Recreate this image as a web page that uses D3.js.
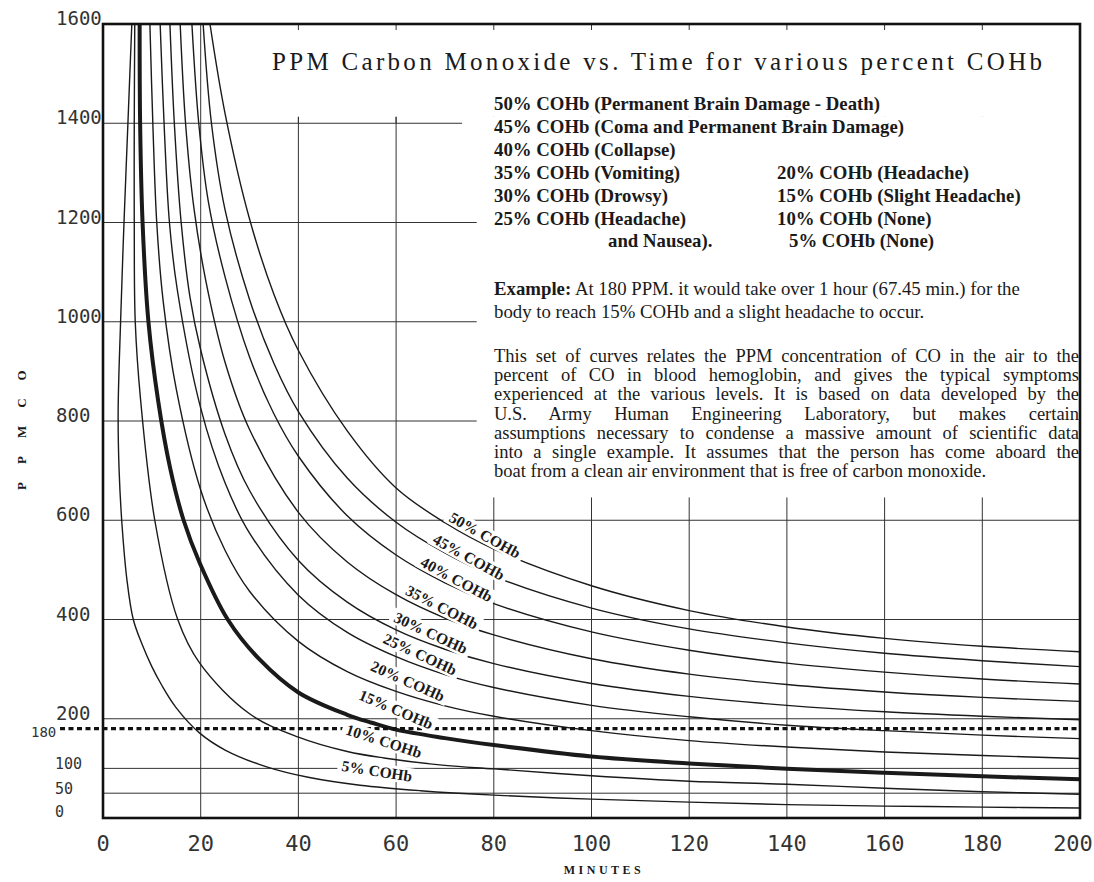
<!DOCTYPE html>
<html>
<head>
<meta charset="utf-8">
<script src="https://cdn.jsdelivr.net/npm/d3@7"></script>
<style>
  body { margin: 0; background: #fff; }
  svg { display: block; }
</style>
</head>
<body>
<div id="chart"></div>
<script>
// curves: [minutes, ppm]
const coh5 = [[5.9,1600],[5.1,1400],[4.3,1200],[3.6,1000],[3.1,820],[3.3,700],[3.9,590],[4.9,480],[6.2,400],[8,350],[10,305],[12,268],[15,222],[19.8,171],[25,137],[33.5,103],[42,82],[52.6,66],[65,55],[80,46],[100,38],[120,32],[140,27],[160,24],[180,22],[200,20]]
const coh10 = [[6.5,1600],[6.4,1400],[6.4,1200],[6.6,1000],[7.7,842],[10.6,600],[15.3,400],[19.8,312],[30,210],[40,163],[50,134],[57.5,121],[70,106],[80,99],[100,85],[120,74],[140,68],[160,60],[180,53],[200,48]]
const coh15 = [[7.5,1600],[7.6,1400],[8.1,1200],[9.3,1000],[11.3,840],[13.7,707],[16.5,600],[19.8,514],[25.6,399],[32,320],[40,253],[50,208],[55,192],[60,178],[70,161],[80,147],[100,124],[120,110],[140,99],[160,91],[180,84],[200,78]]
const coh20 = [[9.6,1600],[10.2,1400],[11,1200],[12.3,1043],[15,864],[20,661],[25,539],[30,457],[40,356],[50,295],[60,255],[70,226],[80,205],[100,176],[120,156],[140,143],[160,133],[180,126],[200,120]]
const coh25 = [[11.7,1600],[12.5,1400],[13.6,1200],[15.2,1065],[20,826],[25,675],[30,574],[40,449],[50,374],[60,325],[70,289],[80,263],[100,227],[120,204],[140,187],[160,176],[180,167],[200,160]]
const coh30 = [[13.7,1600],[14.6,1400],[16,1200],[17.8,1050],[20,943],[25,773],[30,660],[40,519],[50,435],[60,379],[70,340],[80,311],[100,271],[120,245],[140,227],[160,214],[180,205],[200,198]]
const coh35 = [[15.8,1600],[16.9,1400],[18.6,1230],[21,1085],[25,918],[30,783],[40,616],[50,516],[60,450],[70,403],[80,369],[100,321],[120,290],[140,269],[160,254],[180,243],[200,235]]
const coh40 = [[18.2,1600],[19.6,1400],[21.6,1240],[25,1090],[30,929],[35,814],[40,729],[50,609],[60,530],[70,474],[80,432],[100,375],[120,338],[140,312],[160,294],[180,280],[200,270]]
const coh45 = [[20.5,1600],[22.2,1400],[25,1225],[30,1045],[35,916],[40,819],[50,685],[60,596],[70,534],[80,487],[100,423],[120,381],[140,353],[160,332],[180,317],[200,305]]
const coh50 = [[21.9,1600],[25,1419],[30,1207],[35,1055],[40,942],[50,780],[60,665],[70,595],[80,542],[100,468],[120,418],[140,385],[160,362],[180,346],[200,335]]

const levels = ['5%', '10%', '15%', '20%', '25%', '30%', '35%', '40%', '45%', '50%']
const curves = [coh5, coh10, coh15, coh20, coh25, coh30, coh35, coh40, coh45, coh50]
// label anchor [minutes, ppm] and tilt for each level
const labelAt = [[56.1,95],[57.5,155],[60,219],[62.4,276],[64.9,330],[67.1,373],[69.4,425],[72.4,481],[74.9,526],[78.2,570]]
const labelTilt = [9, 18, 23, 24, 25, 25, 27, 28, 29, 29]

const xTicks = [0, 20, 40, 60, 80, 100, 120, 140, 160, 180, 200]
const yTicksBig = [200, 400, 600, 800, 1000, 1200, 1400, 1600]
const yTicksSmall = [0, 50, 100]
const hGrid = [50, 100, 200, 400, 600, 800, 1000, 1200, 1400]
const vGrid = [20, 40, 60, 80, 100, 120, 140, 160, 180]
const examplePPM = 180

const title = 'PPM Carbon Monoxide vs. Time for various percent COHb'
const legendLeft = [
  '50% COHb (Permanent Brain Damage - Death)',
  '45% COHb (Coma and Permanent Brain Damage)',
  '40% COHb (Collapse)',
  '35% COHb (Vomiting)',
  '30% COHb (Drowsy)',
  '25% COHb (Headache)'
]
const legendRight = ['20% COHb (Headache)', '15% COHb (Slight Headache)', '10% COHb (None)', '5% COHb (None)']
const exampleLines = [
  ' At 180 PPM. it would take over 1 hour (67.45 min.) for the',
  'body to reach 15% COHb and a slight headache to occur.'
]
const noteLines = [
  'This set of curves relates the PPM concentration of CO in the air to the',
  'percent of CO in blood hemoglobin, and gives the typical symptoms',
  'experienced at the various levels. It is based on data developed by the',
  'U.S. Army Human Engineering Laboratory, but makes certain',
  'assumptions necessary to condense a massive amount of scientific data',
  'into a single example. It assumes that the person has come aboard the',
  'boat from a clean air environment that is free of carbon monoxide.'
]

const width = 1094, height = 882
const plot = {left: 103, right: 1080, top: 24, bottom: 818}
const ink = '#1a1a1a'
const serif = '"Liberation Serif", "Times New Roman", serif'
const mono = '"DejaVu Sans Mono", monospace'

const x = d3.scaleLinear().domain([0, 200]).range([plot.left, plot.right])
const y = d3.scaleLinear().domain([0, 1600]).range([plot.bottom, plot.top])

const svg = d3.select('#chart').append('svg')
  .attr('width', width)
  .attr('height', height)

svg.append('defs').append('clipPath').attr('id', 'plot-clip')
  .append('rect')
  .attr('x', plot.left).attr('y', plot.top)
  .attr('width', plot.right - plot.left).attr('height', plot.bottom - plot.top)

// grid
const grid = svg.append('g').attr('stroke', '#333').attr('stroke-width', 1)
grid.selectAll('.hg').data(hGrid).enter().append('line')
  .attr('x1', plot.left).attr('x2', plot.right)
  .attr('y1', d => y(d)).attr('y2', d => y(d))
grid.selectAll('.vg').data(vGrid).enter().append('line')
  .attr('x1', d => x(d)).attr('x2', d => x(d))
  .attr('y1', plot.top).attr('y2', plot.bottom)

// blank areas behind the title and the notes
svg.append('rect')
  .attr('x', x(20) + 2).attr('y', plot.top)
  .attr('width', plot.right - x(20) - 2).attr('height', y(1413) - plot.top)
  .attr('fill', '#fff')
svg.append('rect')
  .attr('x', x(73.5)).attr('y', y(1413))
  .attr('width', plot.right - x(73.5)).attr('height', y(1385) - y(1413))
  .attr('fill', '#fff')
svg.append('rect')
  .attr('x', x(76.5)).attr('y', y(1413))
  .attr('width', plot.right - x(76.5)).attr('height', y(646) - y(1413))
  .attr('fill', '#fff')
svg.append('g').attr('stroke', '#333')
  .selectAll('line').data(vGrid.filter(d => d >= 40)).enter().append('line')
  .attr('x1', d => x(d)).attr('x2', d => x(d))
  .attr('y1', plot.top).attr('y2', plot.top + 6)
svg.append('g').attr('stroke', '#333')
  .selectAll('line').data([40, 60]).enter().append('line')
  .attr('x1', d => x(d)).attr('x2', d => x(d))
  .attr('y1', y(1413)).attr('y2', y(1400))

// curves
const line = d3.line()
  .x(d => x(d[0]))
  .y(d => y(d[1]))
  .curve(d3.curveCatmullRom.alpha(0.5))
svg.append('g').attr('clip-path', 'url(#plot-clip)')
  .selectAll('path').data(curves).enter().append('path')
  .attr('d', line)
  .attr('fill', 'none')
  .attr('stroke', ink)
  .attr('stroke-width', (d, i) => levels[i] === '15%' ? 4 : 1.4)
  .attr('stroke-linejoin', 'round')

// 180 ppm example line
svg.append('line')
  .attr('x1', 60).attr('x2', plot.right)
  .attr('y1', y(examplePPM)).attr('y2', y(examplePPM))
  .attr('stroke', '#111')
  .attr('stroke-width', 3.2)
  .attr('stroke-dasharray', '5,3.5')

// curve labels, each on a white patch
const lab = svg.append('g').selectAll('g').data(levels).enter().append('g')
  .attr('transform', (d, i) => `translate(${x(labelAt[i][0])},${y(labelAt[i][1])}) rotate(${labelTilt[i]})`)
const labText = lab.append('text')
  .text(d => d + ' COHb')
  .attr('text-anchor', 'middle')
  .attr('dy', '0.35em')
  .attr('font-family', serif)
  .attr('font-weight', 'bold')
  .attr('font-size', 15.5)
  .attr('fill', ink)
labText.each(function() {
  const w = this.getComputedTextLength() + 8
  d3.select(this.parentNode).insert('rect', 'text')
    .attr('x', -w / 2).attr('y', -8)
    .attr('width', w).attr('height', 16)
    .attr('fill', '#fff')
})

// frame
svg.append('rect')
  .attr('x', plot.left).attr('y', plot.top)
  .attr('width', plot.right - plot.left).attr('height', plot.bottom - plot.top)
  .attr('fill', 'none')
  .attr('stroke', '#111')
  .attr('stroke-width', 2.6)

// axis labels
svg.append('g').selectAll('text').data(xTicks).enter().append('text')
  .text(d => d)
  .attr('x', d => Math.min(x(d), width - 21))
  .attr('y', 851)
  .attr('text-anchor', 'middle')
  .attr('font-family', mono)
  .attr('font-size', 22)
  .attr('fill', '#333')
svg.append('g').selectAll('text').data(yTicksBig).enter().append('text')
  .text(d => d)
  .attr('x', 56)
  .attr('y', d => y(d) + 1)
  .attr('font-family', mono)
  .attr('font-size', 19)
  .attr('fill', '#333')
svg.append('g').selectAll('text').data(yTicksSmall).enter().append('text')
  .text(d => d)
  .attr('x', 55)
  .attr('y', d => y(d) + (d === 0 ? -1 : 1))
  .attr('font-family', mono)
  .attr('font-size', 15)
  .attr('fill', '#333')
svg.append('text')
  .text(examplePPM)
  .attr('x', 31).attr('y', y(examplePPM) + 8)
  .attr('font-family', mono)
  .attr('font-size', 14)
  .attr('fill', '#333')

svg.append('text')
  .text('PPMCO')
  .attr('transform', 'translate(26,490) rotate(-90)')
  .attr('font-family', serif)
  .attr('font-weight', 'bold')
  .attr('font-size', 13)
  .attr('letter-spacing', 18)
  .attr('fill', ink)
svg.append('text')
  .text('MINUTES')
  .attr('x', 604).attr('y', 874)
  .attr('text-anchor', 'middle')
  .attr('font-family', serif)
  .attr('font-weight', 'bold')
  .attr('font-size', 12)
  .attr('letter-spacing', 3.5)
  .attr('fill', ink)

// title and notes
svg.append('text')
  .text(title)
  .attr('x', 272).attr('y', 70)
  .attr('textLength', 770)
  .attr('lengthAdjust', 'spacing')
  .attr('font-family', serif)
  .attr('font-size', 25)
  .attr('fill', ink)

const legend = svg.append('g')
  .attr('font-family', serif)
  .attr('font-weight', 'bold')
  .attr('font-size', 18.8)
  .attr('fill', ink)
legend.selectAll('.ll').data(legendLeft).enter().append('text')
  .text(d => d)
  .attr('x', 494)
  .attr('y', (d, i) => 110 + i * 22.9)
legend.append('text')
  .text('and Nausea).')
  .attr('x', 608)
  .attr('y', 110 + 6 * 22.9)
legend.selectAll('.lr').data(legendRight).enter().append('text')
  .text(d => d)
  .attr('x', (d, i) => i === 3 ? 789 : 777)
  .attr('y', (d, i) => 110 + (i + 3) * 22.9)

const ex = svg.append('text')
  .attr('x', 494).attr('y', 295)
  .attr('font-family', serif)
  .attr('font-size', 18.8)
  .attr('fill', ink)
ex.append('tspan').text('Example:').attr('font-weight', 'bold')
ex.append('tspan').text(exampleLines[0])
svg.append('text')
  .text(exampleLines[1])
  .attr('x', 494).attr('y', 318)
  .attr('font-family', serif)
  .attr('font-size', 18.8)
  .attr('fill', ink)

const note = svg.append('g')
  .attr('font-family', serif)
  .attr('font-size', 18.5)
  .attr('fill', ink)
note.selectAll('text').data(noteLines).enter().append('text')
  .text(d => d)
  .attr('x', 494)
  .attr('y', (d, i) => 362 + i * 19.2)
  .each(function(d, i) {
    if (i === noteLines.length - 1) return
    const spaces = d.split(' ').length - 1
    const extra = (1079 - 494) - this.getComputedTextLength()
    d3.select(this).attr('word-spacing', extra / spaces)
  })
</script>
</body>
</html>
